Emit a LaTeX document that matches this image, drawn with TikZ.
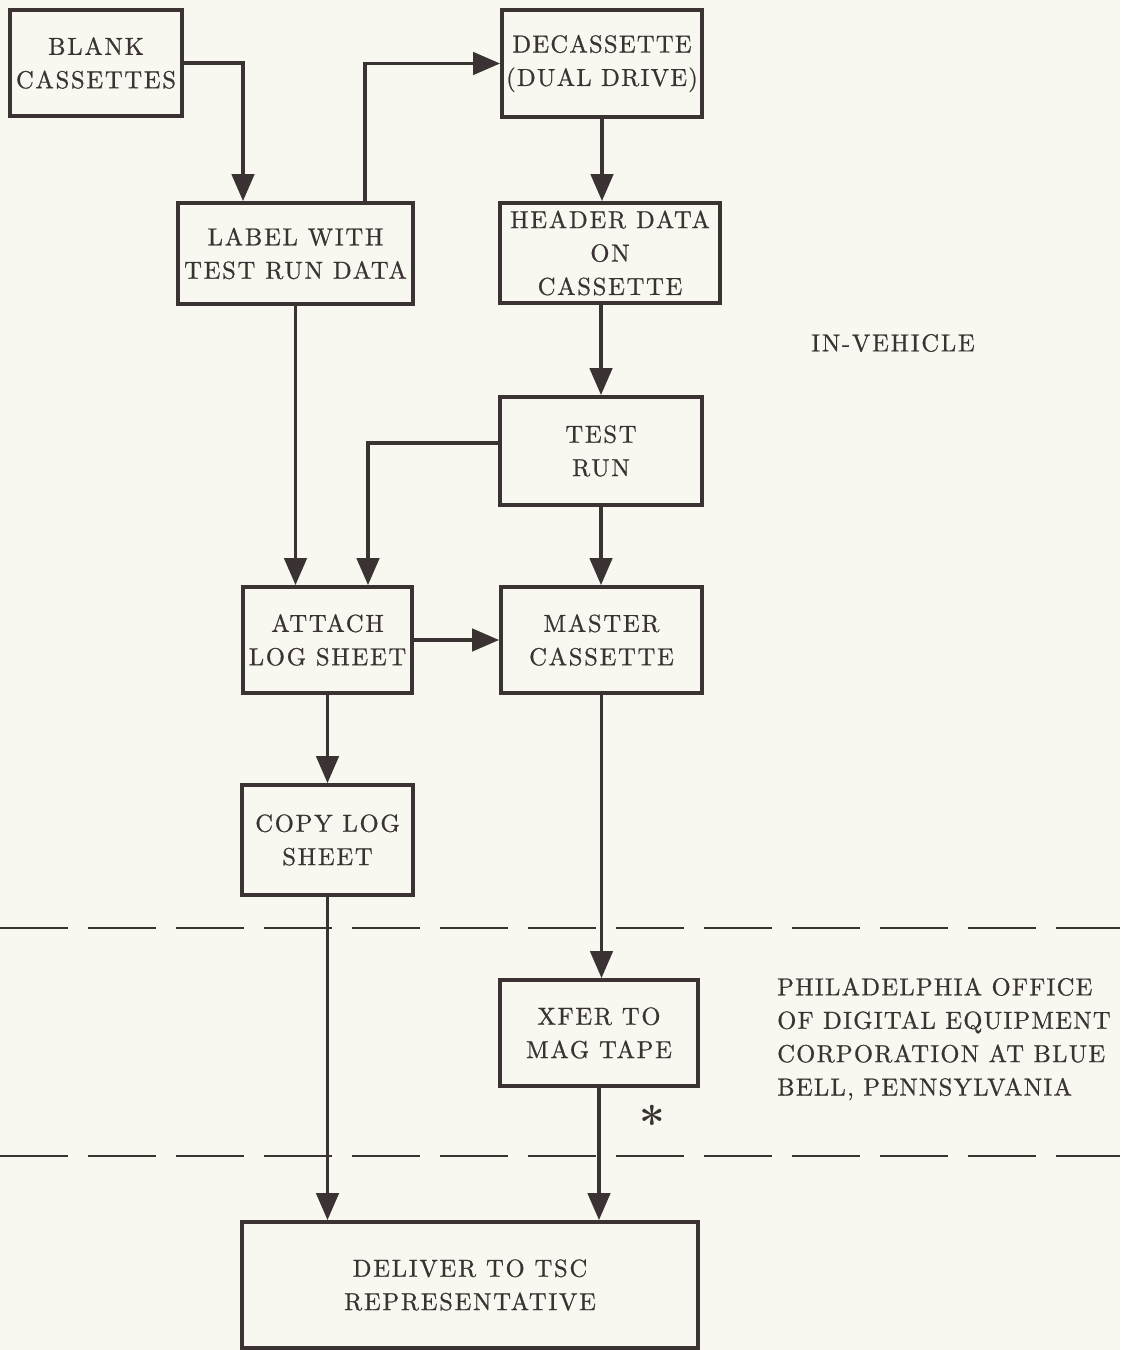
\documentclass[tikz,border=0pt]{standalone}
\usepackage{fontspec}
\newfontfamily\boxfont{lmroman10-regular.otf}[LetterSpace=7, FakeBold=0.8]
\newfontfamily\notefont{lmroman10-regular.otf}[LetterSpace=5, FakeBold=0.8]
\usepackage{xcolor}
\usetikzlibrary{arrows.meta, calc}
\definecolor{paper}{HTML}{F8F8F1}
\definecolor{ink}{HTML}{3B3333}

\begin{document}
\begin{tikzpicture}[>={Triangle[length=5.4mm, width=4.5mm]},
  every node/.style={font=\boxfont\fontsize{14}{19}\selectfont, text=ink},
  stepbox/.style={draw=ink, line width=2.2pt, align=center, inner sep=1pt},
  flow/.style={->, draw=ink, line width=1.8pt},
  zone/.style={draw=ink, line width=1.6pt, dash pattern=on 1.36cm off 0.4cm}]
  \fill[paper] (0,0) rectangle (22.4,-27);
  \useasboundingbox (0,0) rectangle (22.4,-27);
  % boxes
  \node[stepbox, minimum width=3.44cm, minimum height=2.12cm] (blank) at (1.92,-1.26) {BLANK\\CASSETTES};
  \node[stepbox, minimum width=4.0cm, minimum height=2.14cm, font=\notefont\fontsize{14}{19}\selectfont] (decass) at (12.04,-1.27) {DECASSETTE\\(DUAL DRIVE)};
  \node[stepbox, minimum width=4.7cm, minimum height=2.02cm] (label) at (5.91,-5.07) {LABEL WITH\\TEST RUN DATA};
  \node[stepbox, minimum width=4.4cm, minimum height=2.0cm] (header) at (12.2,-5.06) {HEADER DATA\\ON\\CASSETTE};
  \node[stepbox, minimum width=4.04cm, minimum height=2.16cm] (test) at (12.02,-9.02) {TEST\\RUN};
  \node[stepbox, minimum width=3.38cm, minimum height=2.12cm] (attach) at (6.55,-12.8) {ATTACH\\LOG SHEET};
  \node[stepbox, minimum width=4.02cm, minimum height=2.12cm] (master) at (12.03,-12.8) {MASTER\\CASSETTE};
  \node[stepbox, minimum width=3.42cm, minimum height=2.2cm] (copy) at (6.55,-16.8) {COPY LOG\\SHEET};
  \node[stepbox, minimum width=3.96cm, minimum height=2.12cm] (xfer) at (11.98,-20.66) {XFER TO\\MAG TAPE};
  \node[stepbox, minimum width=9.12cm, minimum height=2.52cm] (deliver) at (9.4,-25.7) {DELIVER TO TSC\\REPRESENTATIVE};
  % zone borders and notes
  \draw[zone] (0,-18.56) -- (22.4,-18.56);
  \draw[zone] (0,-23.12) -- (22.4,-23.12);
  \node[anchor=west] (invehicle) at (16.1,-6.86) {IN-VEHICLE};
  \node[anchor=west, align=left, font=\notefont\fontsize{14}{19}\selectfont] (philly) at (15.42,-20.78) {PHILADELPHIA OFFICE\\OF DIGITAL EQUIPMENT\\CORPORATION AT BLUE\\BELL, PENNSYLVANIA};
  \node[font=\normalfont\bfseries\fontsize{26}{26}\selectfont] (star) at (13.04,-22.45) {*};
  % flow
  \draw[flow] (blank.east) -| ([xshift=-1.05cm]label.north);
  \draw[flow] ([xshift=1.39cm]label.north) |- (decass.west);
  \draw[flow] (decass.south) -- (decass.south |- header.north);
  \draw[flow] (test.north |- header.south) -- (test.north);
  \draw[flow] (label.south) -- (label.south |- attach.north);
  \draw[flow] ([yshift=0.16cm]test.west) -| ([xshift=0.81cm]attach.north);
  \draw[flow] (test.south) -- (test.south |- master.north);
  \draw[flow] (attach.east) -- (master.west);
  \draw[flow] (attach.south) -- (copy.north);
  \draw[flow] (master.south) -- (master.south |- xfer.north);
  \draw[flow] (copy.south) -- (copy.south |- deliver.north);
  \draw[flow] (xfer.south) -- (xfer.south |- deliver.north);
\end{tikzpicture}
\end{document}
